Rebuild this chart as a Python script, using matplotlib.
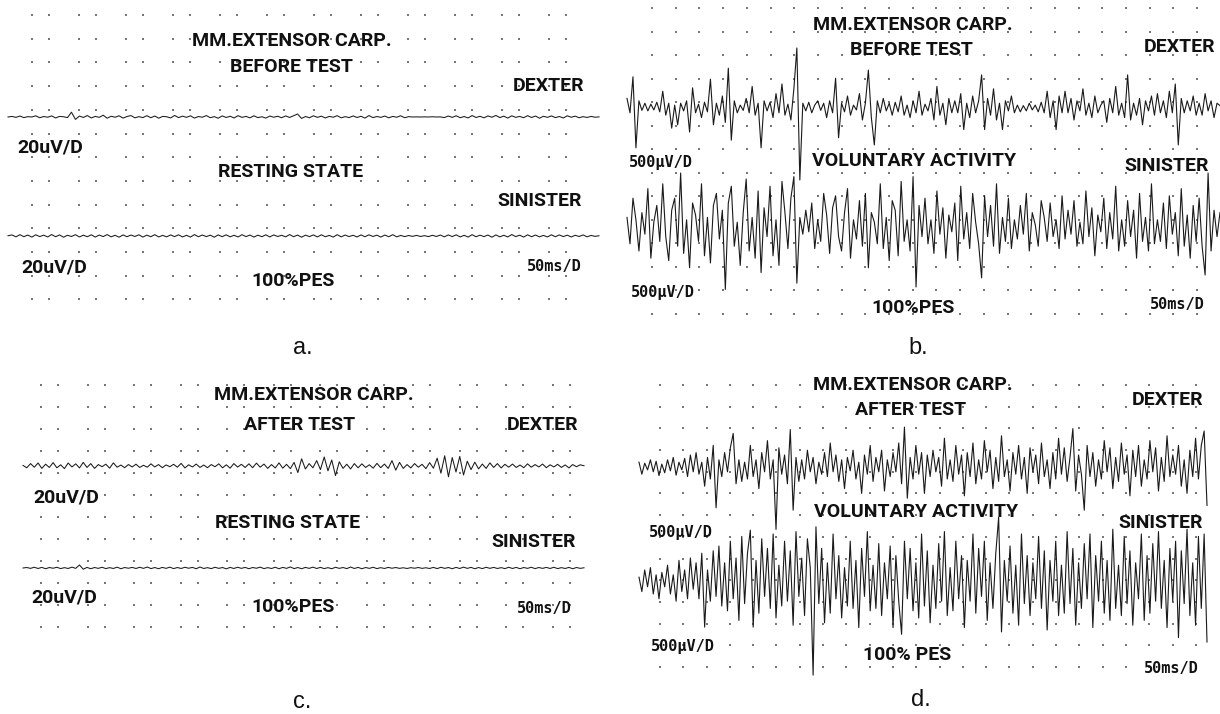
import numpy as np
import matplotlib
matplotlib.use("Agg")
import matplotlib.pyplot as plt

# ---- trace data (uV), read off the scanned EMG sheets ----
# a. resting state, before test (20 uV/D)
rest_before_dex = [
    0, 0.5, -0.3, 0.8, -0.5, 0.3, 0, 1.0, -0.6, 0.4,
    -0.2, 0.9, -0.8, 0.5, 0.2, -0.5, 4.0, -2.0, 0.8, -0.4,
    1.2, -0.8, 0.5, -0.3, 1.5, -1.0, 0.6, -0.2, 1.0, -0.9,
    0.4, 1.2, -0.7, 0.3, -0.5, 1.1, -0.6, 0.8, -1.0, 0.5,
    0.2, -0.8, 1.3, -0.5, 0.7, -0.3, 1.0, -0.9, 0.4, -0.2,
    1.2, -0.6, 0.3, -1.0, 0.9, -0.4, 0.6, -0.8, 1.1, -0.3,
    0.5, -0.7, 1.0, -0.5, 0.2, -0.9, 0.8, -0.2, 0.6, -0.6,
    0.9, -0.4, 1.0, 2.5, -1.2, 0.4, -0.6, 1.0, -0.3, 0.7,
    -0.8, 0.5, -0.2, 1.1, -0.7, 0.3, -0.5, 0.9, -0.4, 0.6,
    -0.9, 1.2, -0.5, 0.4, -0.3, 0.8, -0.7, 0.5, -0.2, 1.0,
    -0.6, 0.3, 0, 0.1, 0, 0.1, 0, 0.2, 0, 0.1,
    -0.5, 0.8, -0.3, 1.0, -0.6, 0.4, -0.8, 1.2, -0.4, 0.6,
    -0.7, 0.9, -0.2, 1.3, -0.5, 0.7, -0.9, 1.0, -0.3, 0.5,
    -0.6, 1.1, -0.4, 0.8, -1.0, 0.6, -0.3, 0.9, -0.5, 0.4,
    -0.8, 1.0, -0.2, 0.7, -0.6, 0.3, -0.4, 0.5, -0.2, 0.1,
]
rest_before_sin = [
    0.2, 0.9, -0.7, 1.1, -0.6, 0.8, -0.9, 1.0, -0.5, 0.7,
    -0.8, 1.2, -0.6, 0.9, -1.0, 0.6, -0.4, 1.1, -0.8, 0.7,
    -0.6, 1.0, -0.9, 0.8, -0.5, 1.2, -0.7, 0.6, -1.0, 0.9,
    -0.6, 0.8, -0.4, 1.0, -0.9, 0.7, -0.6, 1.1, -0.8, 0.5,
    -0.7, 0.9, -0.5, 1.0, -0.8, 0.6, -0.9, 1.2, -0.6, 0.8,
    -0.5, 0.7, -1.0, 0.9, -0.6, 1.0, -0.7, 0.6, -0.8, 1.1,
    -0.5, 0.8, -0.9, 0.7, -0.6, 1.0, -0.8, 0.9, -0.4, 0.6,
    -0.7, 1.2, -0.6, 0.8, -1.0, 0.7, -0.5, 0.9, -0.8, 1.0,
    -0.6, 0.5, -0.9, 1.1, -0.7, 0.8, -0.5, 0.6, -0.8, 0.9,
    -0.6, 1.0, -0.4, 0.7, -0.9, 0.8, -0.6, 1.1, -0.7, 0.5,
    -0.5, 0.4, -0.3, 0.5, -0.4, 0.3, -0.5, 0.6, -0.4, 0.8,
    -0.7, 0.9, -0.5, 1.0, -0.8, 0.6, -0.9, 1.1, -0.6, 0.7,
    -0.5, 0.8, -1.0, 0.9, -0.7, 0.6, -0.8, 1.2, -0.5, 0.7,
    -0.9, 1.0, -0.6, 0.8, -0.7, 0.5, -0.8, 1.0, -0.6, 0.9,
    -0.5, 0.7, -0.8, 0.6, -0.4, 0.9, -0.7, 0.5, -0.3, 0.2,
]
# b. voluntary activity, before test (500 uV/D)
vol_before_dex = [
    200, -100, 650, -830, 150, -50, 100, -60, 80, -40,
    120, -80, 350, -150, 100, -420, 60, -350, 100, -60,
    150, -500, 420, -100, 80, -200, 120, -80, 600, -350,
    100, -150, 250, -300, 830, -670, 150, -100, 60, -50,
    200, -100, 450, -150, 100, -830, 150, -60, 120, -200,
    300, -100, 500, -150, 80, -250, 400, 1250, -1500, 100,
    -60, 120, -100, 60, 150, -50, 100, -200, 150, -100,
    620, -620, 100, -80, 250, -150, 60, -40, 300, -250,
    100, 790, -200, -770, 150, -100, 200, -60, 100, -150,
    120, -80, 250, -150, 60, -200, 150, -100, 350, -150,
    80, -60, 200, -250, 450, -150, 100, -350, 200, -100,
    150, -100, 300, -450, 100, -200, 250, -100, 150, 690,
    -450, 200, -150, 400, -250, 100, -450, 150, -60, 250,
    -100, 60, -80, 50, -60, 100, -40, 60, -80, 120,
    -100, 350, -200, 150, -450, 250, -100, 350, -100, 200,
    -250, 150, -60, 400, -150, 100, -200, 250, -100, 60,
    150, -300, 200, -100, 450, -150, 100, -200, 690, -250,
    100, -150, 200, -350, 150, -60, 250, -150, 300, -100,
    150, -200, 350, -100, 500, -770, 200, -100, 150, -60,
    250, -150, 100, -150, 300, -60, 150, -200, 100, 50,
]
vol_before_sin = [
    200, -350, 600, 150, -500, 300, -150, 800, -650, 100,
    450, -300, 900, -200, -700, 350, 600, -400, 1125, -550,
    150, -850, 500, 250, -300, 900, -600, 200, -750, 450,
    700, -250, 350, -1300, 500, 850, -400, 100, -800, 300,
    1000, -500, 200, -650, 750, -950, 400, -200, 850, -600,
    150, -800, 950, 300, -450, 600, 1050, -1170, 200, -150,
    350, -100, 500, -450, 150, -300, 700, 250, -550, 400,
    650, -200, -500, 300, 800, -650, 150, -250, 550, -400,
    700, -850, 300, 100, -350, 900, -450, 200, -700, 550,
    350, -600, 950, -300, 150, -500, 1050, -1250, 450, -200,
    600, -350, 150, -550, 750, -150, 400, -650, 250, -100,
    500, -700, 850, -250, 300, -450, 700, 100, -350, -1060,
    650, -200, 450, -400, 900, -550, 200, -300, 600, -450,
    150, -250, 450, -150, 700, -500, 300, 50, -400, 550,
    200, -300, 500, -200, 150, -450, 650, -250, 350, -150,
    550, -400, 100, -350, 750, -200, 400, -600, 250, -100,
    600, -450, 300, -250, 850, -500, 150, -400, 550, -200,
    350, -650, 700, -300, 200, -500, 900, -350, 150, -300,
    500, -450, 650, -150, 300, -600, 800, -400, 250, -650,
    450, -300, 600, -400, -1000, 1125, -500, 350, -200, 300,
]
# c. resting state, after test (20 uV/D)
rest_after_dex = [
    0.5, -1.5, 2.0, -1.0, 2.5, -2.0, 1.5, -1.2, 2.8, -1.5,
    1.0, -2.2, 2.5, -0.8, 1.8, -1.6, 3.0, -1.2, 2.0, -2.0,
    1.2, -0.6, 1.5, -1.8, 2.6, -1.0, 0.8, -1.4, 1.2, -0.8,
    1.5, -1.2, 0.6, -1.0, 1.8, -0.8, 1.2, -1.4, 0.9, -0.6,
    1.4, -1.0, 2.2, -1.6, 1.0, -0.8, 1.6, -1.2, 0.8, -1.4,
    1.2, -0.6, 1.8, -1.5, 1.0, -1.8, 2.0, -0.9, 1.4, -1.2,
    1.8, -1.4, 2.4, -1.0, 1.6, -2.0, 1.2, -1.6, 2.6, -1.8,
    1.4, -2.2, 3.0, -5.5, 6.0, -2.5, 2.0, -1.5, 4.5, -3.0,
    7.5, -4.0, 5.0, -8.0, 3.5, -2.0, 1.5, -2.5, 2.0, -1.5,
    1.8, -1.2, 1.0, -1.8, 2.2, -1.4, 1.6, -2.0, 4.5, -3.5,
    3.0, -2.0, 1.2, -1.6, 2.0, -1.0, 1.4, -2.2, 2.8, -1.8,
    6.5, -6.0, 8.5, -9.0, 7.0, -5.0, 8.0, -7.5, 4.0, -3.0,
    3.2, -2.4, 1.6, -2.0, 2.6, -1.2, 2.0, -1.6, 1.4, -1.0,
    1.6, -1.2, 0.8, -1.4, 1.8, -1.0, 1.2, -0.8, 1.6, -1.4,
    1.0, -0.8, 1.4, -1.2, 0.9, -1.6, 1.2, -0.6, 1.0, 0.2,
]
rest_after_sin = [
    0, 0.4, -0.3, 0.6, -0.4, 0.5, -0.6, 0.4, -0.2, 0.6,
    -0.5, 0.3, -0.4, 0.7, -0.3, 2.5, -1.0, 0.5, -0.6, 0.4,
    -0.3, 0.6, -0.5, 0.3, -0.4, 0.7, -0.6, 0.4, -0.2, 0.5,
    -0.4, 0.6, -0.3, 0.8, -0.5, 0.4, -0.6, 0.5, -0.3, 0.7,
    -0.5, 0.4, -0.4, 0.6, -0.2, 0.5, -0.6, 0.8, -0.4, 0.3,
    -0.5, 0.6, -0.3, 0.4, -0.7, 0.5, -0.4, 0.6, -0.3, 0.5,
    -0.6, 0.4, -0.2, 0.7, -0.5, 0.3, -0.4, 0.6, -0.6, 0.5,
    -0.3, 0.9, -0.5, 0.4, -0.6, 0.5, -0.3, 0.7, -0.4, 0.5,
    -0.5, 0.3, -0.6, 0.6, -0.3, 0.4, -0.5, 0.8, -0.4, 0.5,
    -0.6, 0.4, -0.3, 0.6, -0.5, 0.3, -0.4, 0.5, -0.2, 0.4,
    -0.3, 0.2, -0.4, 0.3, -0.2, 0.4, -0.3, 0.2, -0.4, 0.5,
    -0.5, 0.6, -0.3, 0.4, -0.6, 0.5, -0.4, 0.7, -0.3, 0.5,
    -0.6, 0.4, -0.5, 0.6, -0.3, 0.5, -0.4, 0.3, -0.5, 0.6,
    -0.4, 0.5, -0.6, 0.4, -0.3, 0.6, -0.5, 0.4, -0.3, 0.5,
    -0.4, 0.6, -0.5, 0.3, -0.4, 0.5, -0.6, 0.4, -0.3, 0.2,
]
# d. voluntary activity, after test (500 uV/D)
vol_after_dex = [
    100, -150, 80, -60, 150, -100, 120, -180, 60, -120,
    150, -80, 200, -170, 100, -60, 180, -200, 250, -100,
    300, -150, 100, -400, 200, -250, 450, -850, 150, -200,
    300, -100, 400, 700, -350, 150, -300, 100, -250, 450,
    -200, 150, -450, 300, -100, 550, -250, 150, -1300, 400,
    -150, 250, -350, 780, -900, 200, -300, 150, -250, 350,
    -100, 200, -350, 100, -150, 300, -200, 500, -100, 250,
    -300, 150, -450, 200, -80, 350, -250, 100, -550, 250,
    -150, 450, -300, 200, -100, 350, -500, 150, -200, 300,
    -100, 500, -350, 830, -650, 200, -250, 450, -150, 300,
    -550, 250, -200, 350, -100, 200, -400, 600, -250, 150,
    -300, 450, -150, 250, -600, 300, -200, 500, -350, 150,
    -250, 550, -100, 350, -450, 200, -300, 650, -200, 150,
    -500, 300, -150, 450, -250, 200, -550, 400, -100, 250,
    -350, 500, -200, 150, -450, 300, -250, 600, -150, 400,
    -300, 200, 800, -500, 250, -150, -900, 450, -200, 300,
    -400, 150, -250, 550, -100, 400, -450, 200, -300, 500,
    -150, 250, -600, 350, -200, 450, -400, 150, -250, 550,
    -100, 400, -500, 200, -300, 650, -200, 250, -150, 450,
    -400, 150, -550, 350, -200, 600, -250, 450, 750, -800,
]
vol_after_sin = [
    100, -200, 250, -100, 300, -250, 150, -350, 200, -100,
    350, -250, 150, -400, 450, -200, 250, -350, 500, -150,
    400, -350, 600, -940, 250, -400, 650, -300, 750, -500,
    400, -600, 850, -350, 500, -800, 950, -450, 600, 1080,
    -940, 450, -650, 900, -300, 700, -550, 1000, -750, 350,
    -500, 850, -400, 650, -900, 1050, -300, 500, -700, 900,
    300, -1940, 1150, -450, 700, -850, 400, -650, 1000, -350,
    550, -750, 300, -500, 850, -550, 450, -950, 700, -300,
    1050, -600, 350, -550, 800, -700, 400, -350, 750, -950,
    550, -400, -1090, 850, -350, 700, -600, 400, -750, 1000,
    -500, 650, -850, 350, -550, 800, -400, 1050, -700, 300,
    -600, 850, -350, 550, -950, 450, -400, 1000, -650, 700,
    -300, 850, -800, 400, -550, 600, 1350, -1040, 450, -400,
    750, -650, 350, -900, 1000, -450, 550, -700, 400, -350,
    950, -550, 650, -1000, 450, -400, 850, -700, 350, -650,
    1050, -450, 700, -900, 400, -550, 800, -350, 1000, -950,
    550, -400, 850, -650, 450, -800, 1100, -550, 350, -700,
    950, -450, 650, -900, 400, -350, 1000, -800, 550, -650,
    800, -400, 1050, -550, 450, -950, 700, -400, 850, -1160,
    650, -450, 1100, -700, 400, -900, 950, -550, 1000, -1250,
]

SWEEP_MS = 500      # 10 div x 50 ms/D
PX_PER_DIV = 24
W, H = 1220, 714

label_font = ["Roboto", "Liberation Sans", "DejaVu Sans"]
caption_font = ["Liberation Sans", "DejaVu Sans"]
mono_font = ["DejaVu Sans Mono"]

fig = plt.figure(figsize=(W / 100, H / 100), dpi=100)
fig.patch.set_facecolor("white")


def px_axes(x0, y0, x1, y1):
    ax = fig.add_axes([x0 / W, 1 - y1 / H, (x1 - x0) / W, (y1 - y0) / H])
    ax.set_axis_off()
    ax.patch.set_alpha(0)
    return ax


def dot_grid(x0, y0, x1, y1, xs, ys):
    ax = px_axes(x0, y0, x1, y1)
    ax.set_xlim(x0, x1)
    ax.set_ylim(y1, y0)
    gx, gy = np.meshgrid(xs, ys)
    ax.scatter(gx.ravel(), gy.ravel(), s=1.2, c="#777777", marker="s", linewidths=0)


def trace(values, x0, x1, base_y, uv_per_div, lw=0.8):
    half = 110
    ax = px_axes(x0, base_y - half, x1, base_y + half)
    v = np.asarray(values, dtype=float)
    t = np.arange(len(v)) * SWEEP_MS / (len(v) - 1)
    ax.plot(t, v, color="#1a1a1a", lw=lw, clip_on=False)
    ax.set_xlim(0, SWEEP_MS)
    lim = half / PX_PER_DIV * uv_per_div
    ax.set_ylim(-lim, lim)


def label(x, y, s, ha="left", size=14, kind="label"):
    if kind == "mono":
        fam, wt = mono_font, "bold"
    elif kind == "caption":
        fam, wt = caption_font, "normal"
    else:
        fam, wt = label_font, "bold"
    fig.text(x / W, 1 - y / H, s, ha=ha, va="center", fontsize=size,
             family=fam, weight=wt, color="#111111")


# dot grids
dot_grid(0, 0, 610, 340, np.r_[np.arange(32, 560, 47), np.arange(49, 570, 47)], np.arange(15, 305, 23.7))
dot_grid(610, 0, 1220, 340, np.arange(652, 1218, 23.7), np.arange(8, 320, 23.5))
dot_grid(0, 360, 610, 714, np.r_[np.arange(41, 570, 46.5), np.arange(58, 570, 46.5)], np.arange(385, 630, 22))
dot_grid(610, 360, 1220, 714, np.arange(660, 1210, 23.3), np.arange(385, 680, 21.7))

# traces
trace(rest_before_dex, 8, 599, 117, 20, lw=0.75)
trace(rest_before_sin, 8, 599, 236, 20, lw=0.75)
trace(vol_before_dex, 627, 1220, 108, 500)
trace(vol_before_sin, 627, 1220, 227, 500)
trace(rest_after_dex, 23, 584, 466, 20, lw=0.75)
trace(rest_after_sin, 23, 584, 568, 20, lw=0.75)
trace(vol_after_dex, 639, 1207, 467, 500)
trace(vol_after_sin, 639, 1207, 582, 500)

# panel a text
label(292, 41, "MM.EXTENSOR CARP.", ha="center")
label(291, 67, "BEFORE TEST", ha="center")
label(584, 86, "DEXTER", ha="right")
label(17, 148, "20uV/D")
label(291, 172, "RESTING STATE", ha="center")
label(582, 201, "SINISTER", ha="right")
label(21, 268, "20uV/D")
label(293, 281, "100%PES", ha="center")
label(582, 267, "50ms/D", ha="right", size=11, kind="mono")
label(303, 348, "a.", ha="center", size=17, kind="caption")

# panel b text
label(913, 25, "MM.EXTENSOR CARP.", ha="center")
label(911, 50, "BEFORE TEST", ha="center")
label(1215, 47, "DEXTER", ha="right")
label(629, 162, "500µV/D", size=11, kind="mono")
label(914, 161, "VOLUNTARY ACTIVITY", ha="center")
label(1209, 166, "SINISTER", ha="right")
label(631, 293, "500µV/D", size=11, kind="mono")
label(913, 308, "100%PES", ha="center")
label(1205, 305, "50ms/D", ha="right", size=11, kind="mono")
label(918, 348, "b.", ha="center", size=17, kind="caption")

# panel c text
label(314, 395, "MM.EXTENSOR CARP.", ha="center")
label(300, 425, "AFTER TEST", ha="center")
label(578, 425, "DEXTER", ha="right")
label(33, 497, "20uV/D")
label(288, 523, "RESTING STATE", ha="center")
label(576, 542, "SINISTER", ha="right")
label(31, 597, "20uV/D")
label(293, 607, "100%PES", ha="center")
label(572, 608, "50ms/D", ha="right", size=11, kind="mono")
label(302, 702, "c.", ha="center", size=17, kind="caption")

# panel d text
label(913, 385, "MM.EXTENSOR CARP.", ha="center")
label(911, 410, "AFTER TEST", ha="center")
label(1203, 400, "DEXTER", ha="right")
label(916, 512, "VOLUNTARY ACTIVITY", ha="center")
label(1203, 523, "SINISTER", ha="right")
label(649, 532, "500µV/D", size=11, kind="mono")
label(651, 647, "500µV/D", size=11, kind="mono")
label(907, 655, "100% PES", ha="center")
label(1199, 668, "50ms/D", ha="right", size=11, kind="mono")
label(921, 700, "d.", ha="center", size=17, kind="caption")

fig.savefig("out.png", dpi=100, facecolor="white")
